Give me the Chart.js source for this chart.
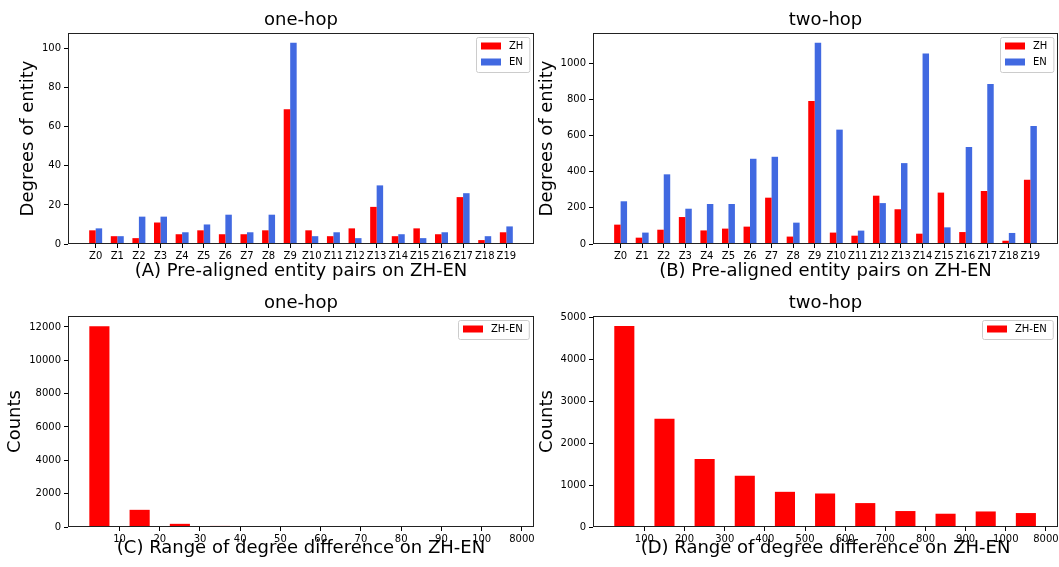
<!DOCTYPE html>
<html>
<head>
<meta charset="utf-8">
<script src="https://cdn.jsdelivr.net/npm/chart.js@4.4.1/dist/chart.umd.min.js"></script>
<style>
  html, body { margin: 0; padding: 0; background: #fff; }
  #wrap { position: relative; width: 1059px; height: 567px; overflow: hidden; }
  canvas { position: absolute; }
</style>
</head>
<body>
<div id="wrap">
  <canvas id="chartA" width="540" height="285" style="left:0;top:0"></canvas>
  <canvas id="chartB" width="529" height="285" style="left:530px;top:0"></canvas>
  <canvas id="chartC" width="540" height="282" style="left:0;top:285px"></canvas>
  <canvas id="chartD" width="529" height="282" style="left:530px;top:285px"></canvas>
</div>
<script>
// --- data ---
const entityGroups = ['Z0', 'Z1', 'Z2', 'Z3', 'Z4', 'Z5', 'Z6', 'Z7', 'Z8', 'Z9',
    'Z10', 'Z11', 'Z12', 'Z13', 'Z14', 'Z15', 'Z16', 'Z17', 'Z18', 'Z19'];
const oneHopZH = [7, 4, 3, 11, 5, 7, 5, 5, 7, 69, 7, 4, 8, 19, 4, 8, 5, 24, 2, 6];
const oneHopEN = [8, 4, 14, 14, 6, 10, 15, 6, 15, 103, 4, 6, 3, 30, 5, 3, 6, 26, 4, 9];
const twoHopZH = [107, 35, 79, 149, 75, 85, 96, 256, 41, 790, 63, 46, 267, 192, 57, 284, 66, 293, 18, 355];
const twoHopEN = [236, 63, 385, 195, 221, 221, 471, 482, 118, 1112, 632, 74, 226, 447, 1053, 92, 536, 884, 61, 652];

const oneHopRangeLabels = ['10', '20', '30', '40', '50', '60', '70', '80', '90', '100', '8000'];
const oneHopRangeCounts = [12040, 1030, 190, 65, 40, 18, 10, 6, 4, 3, 9];
const twoHopRangeLabels = ['100', '200', '300', '400', '500', '600', '700', '800', '900', '1000', '8000'];
const twoHopRangeCounts = [4800, 2586, 1626, 1221, 840, 800, 571, 381, 317, 371, 333];

const FONT = 'DejaVu Sans';
const RED = '#ff0000';
const BLUE = '#4169e1';

// draws the four spines like matplotlib
const frame = {
    id: 'frame',
    afterDatasetsDraw(chart) {
        const { ctx, chartArea: a } = chart;
        ctx.save();
        ctx.strokeStyle = '#222';
        ctx.lineWidth = 1;
        ctx.strokeRect(a.left + 0.5, a.top + 0.5, a.right - a.left - 1, a.bottom - a.top - 1);
        ctx.restore();
    }
};

// legend box in the upper right corner of the plot
const insideLegend = {
    id: 'insideLegend',
    afterDraw(chart) {
        const { ctx, chartArea } = chart;
        const sets = chart.data.datasets;
        ctx.save();
        ctx.font = '10px "' + FONT + '"';
        const textW = Math.max(...sets.map(d => ctx.measureText(d.label).width));
        const w = 5 + 20 + 8 + textW + 6;
        const h = 9 + 16 * (sets.length - 1) + 10;
        const x = Math.round(chartArea.right - 5 - w);
        const y = Math.round(chartArea.top + 4);
        ctx.fillStyle = 'rgba(255,255,255,0.8)';
        ctx.strokeStyle = '#cccccc';
        ctx.lineWidth = 1;
        ctx.beginPath();
        ctx.roundRect(x + 0.5, y + 0.5, w, h, 2);
        ctx.fill();
        ctx.stroke();
        sets.forEach((d, i) => {
            const cy = y + 9 + i * 16;
            ctx.fillStyle = d.backgroundColor;
            ctx.fillRect(x + 5, cy - 3.5, 20, 7);
            ctx.fillStyle = '#000';
            ctx.textBaseline = 'middle';
            ctx.textAlign = 'left';
            ctx.fillText(d.label, x + 33, cy);
        });
        ctx.restore();
    }
};

// replace the generated ticks with plain multiples of step
function fixedTicks(lo, hi, step) {
    return (scale) => {
        const list = [];
        for (let v = lo; v <= hi + 1e-9; v += step) list.push({ value: v });
        scale.ticks = list;
    };
}

const tickGrid = { display: true, drawOnChartArea: false, drawTicks: true, tickLength: 4, color: '#000', offset: false };

function makeChart(id, opts) {
    const ctx = document.getElementById(id).getContext('2d');
    return new Chart(ctx, {
        type: 'bar',
        data: { datasets: opts.datasets },
        options: {
            responsive: false,
            animation: false,
            layout: { padding: { left: 0, right: opts.padRight, top: 0, bottom: 0 } },
            plugins: {
                legend: { display: false },
                tooltip: { enabled: false },
                title: {
                    display: true,
                    fullSize: false,
                    text: opts.title,
                    color: '#000',
                    font: { family: FONT, size: 18, weight: 'normal', lineHeight: 1 },
                    padding: opts.titlePad
                }
            },
            scales: {
                x: {
                    type: 'linear',
                    min: opts.xMin,
                    max: opts.xMax,
                    offset: false,
                    grid: tickGrid,
                    border: { display: false },
                    ticks: {
                        autoSkip: false,
                        maxRotation: 0,
                        padding: 2,
                        color: '#000',
                        font: { family: FONT, size: 10 },
                        callback: opts.xLabel
                    },
                    afterBuildTicks: fixedTicks(opts.tickLo, opts.tickHi, 1),
                    afterFit: (s) => { s.height = opts.xHeight; s.paddingLeft = 0; s.paddingRight = 0; },
                    title: {
                        display: true,
                        text: opts.xTitle,
                        color: '#000',
                        font: { family: FONT, size: 18, lineHeight: 1 },
                        padding: { top: 0, bottom: opts.xTitlePad }
                    }
                },
                y: {
                    min: 0,
                    max: opts.yMax,
                    grid: tickGrid,
                    border: { display: false },
                    ticks: {
                        padding: 3,
                        color: '#000',
                        font: { family: FONT, size: 10 },
                        callback: (v) => String(v)
                    },
                    afterBuildTicks: fixedTicks(0, opts.yMax, opts.yStep),
                    afterFit: (s) => { s.width = opts.yWidth; s.paddingTop = 0; s.paddingBottom = 0; },
                    title: {
                        display: true,
                        text: opts.yTitle,
                        color: '#000',
                        font: { family: FONT, size: 18, lineHeight: 1 },
                        padding: { top: opts.yTitlePad, bottom: 0 }
                    }
                }
            }
        },
        plugins: [frame, insideLegend]
    });
}

function pairSets(zh, en) {
    return [
        { label: 'ZH', data: zh.map((v, i) => ({ x: i, y: v })), backgroundColor: RED,
          categoryPercentage: 0.6, barPercentage: 1 },
        { label: 'EN', data: en.map((v, i) => ({ x: i, y: v })), backgroundColor: BLUE,
          categoryPercentage: 0.6, barPercentage: 1 }
    ];
}

function rangeSet(counts) {
    return [
        { label: 'ZH-EN', data: counts.map((v, i) => ({ x: i + 0.5, y: v })), backgroundColor: RED,
          categoryPercentage: 0.5, barPercentage: 1 }
    ];
}

makeChart('chartA', {
    datasets: pairSets(oneHopZH, oneHopEN),
    title: 'one-hop', titlePad: { top: 11, bottom: 4 },
    xMin: -1.28, xMax: 20.28, tickLo: 0, tickHi: 19, xLabel: (v) => entityGroups[v],
    xHeight: 41, xTitle: '(A) Pre-aligned entity pairs on ZH-EN', xTitlePad: 4.5,
    yMax: 108, yStep: 20, yWidth: 68, yTitle: 'Degrees of entity', yTitlePad: 19,
    padRight: 6
});

makeChart('chartB', {
    datasets: pairSets(twoHopZH, twoHopEN),
    title: 'two-hop', titlePad: { top: 11, bottom: 4 },
    xMin: -1.28, xMax: 20.28, tickLo: 0, tickHi: 19, xLabel: (v) => entityGroups[v],
    xHeight: 41, xTitle: '(B) Pre-aligned entity pairs on ZH-EN', xTitlePad: 4.5,
    yMax: 1166, yStep: 200, yWidth: 63, yTitle: 'Degrees of entity', yTitlePad: 8,
    padRight: 1
});

makeChart('chartC', {
    datasets: rangeSet(oneHopRangeCounts),
    title: 'one-hop', titlePad: { top: 9.5, bottom: 3.5 },
    xMin: -0.28, xMax: 11.3, tickLo: 1, tickHi: 11, xLabel: (v) => oneHopRangeLabels[v - 1],
    xHeight: 40, xTitle: '(C) Range of degree difference on ZH-EN', xTitlePad: 9.5,
    yMax: 12658, yStep: 2000, yWidth: 68, yTitle: 'Counts', yTitlePad: 6,
    padRight: 6
});

makeChart('chartD', {
    datasets: rangeSet(twoHopRangeCounts),
    title: 'two-hop', titlePad: { top: 9.5, bottom: 3.5 },
    xMin: -0.28, xMax: 11.3, tickLo: 1, tickHi: 11, xLabel: (v) => twoHopRangeLabels[v - 1],
    xHeight: 40, xTitle: '(D) Range of degree difference on ZH-EN', xTitlePad: 9.5,
    yMax: 5038, yStep: 1000, yWidth: 63, yTitle: 'Counts', yTitlePad: 8,
    padRight: 1
});
</script>
</body>
</html>
